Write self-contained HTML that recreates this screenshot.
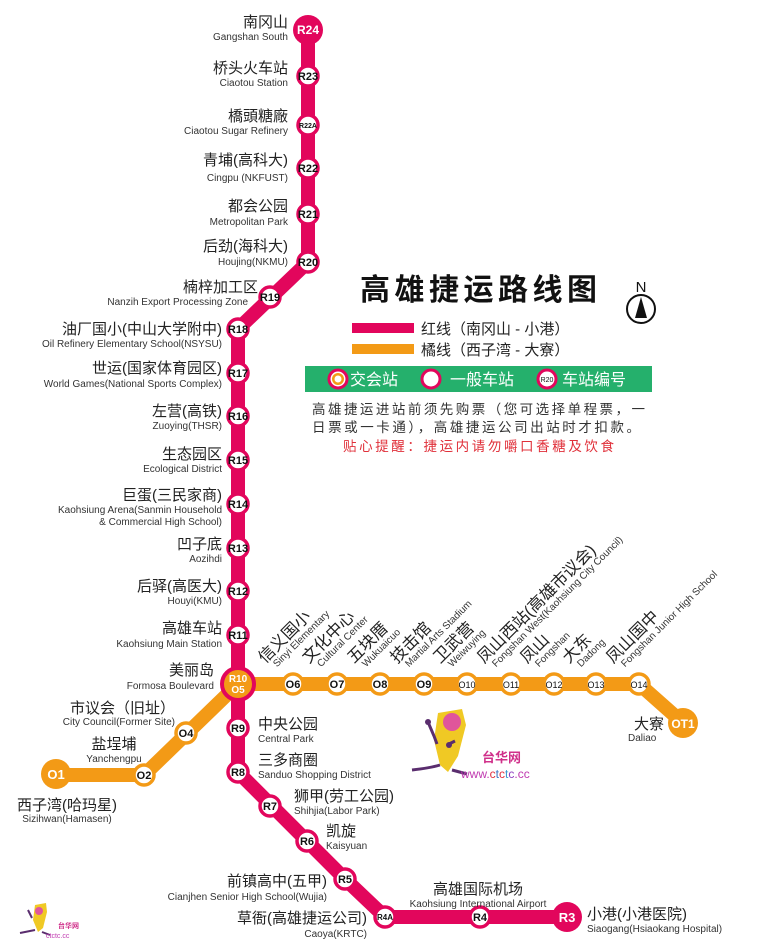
<!DOCTYPE html>
<html><head><meta charset="utf-8"><style>
html,body{margin:0;padding:0;background:#fff;}
svg{display:block;}
text{font-family:"Liberation Sans","Noto Sans CJK SC",sans-serif;}
.cn{font-size:15px;fill:#222;}
.rc{font-size:16.5px;fill:#222;}
.en{font-size:10px;fill:#333;}
.sn{font-size:11px;font-weight:bold;fill:#111;text-anchor:middle;}
.r{fill:#fff;stroke:#e2065c;stroke-width:3.5;}
.o{fill:#fff;stroke:#f39a16;stroke-width:3.5;}
</style></head><body>
<svg width="761" height="940" viewBox="0 0 761 940" xmlns="http://www.w3.org/2000/svg">
<polyline points="308,30 308,262 238,329 238,772 345,879 385,917 567,917" fill="none" stroke="#e2065c" stroke-width="14" stroke-linejoin="round"/>
<polyline points="56,775 144,775 238,684 639,684 683,723" fill="none" stroke="#f39a16" stroke-width="14" stroke-linejoin="round"/>

<circle cx="308" cy="30" r="15" fill="#e2065c"/><text x="308" y="34" class="sn" style="fill:#fff;font-size:12px">R24</text>
<g>
<circle cx="308" cy="76" r="10" class="r"/><text x="308" y="80" class="sn">R23</text>
<circle cx="308" cy="125" r="10" class="r"/><text x="308" y="128" class="sn" style="font-size:7px">R22A</text>
<circle cx="308" cy="168" r="10" class="r"/><text x="308" y="172" class="sn">R22</text>
<circle cx="308" cy="214" r="10" class="r"/><text x="308" y="218" class="sn">R21</text>
<circle cx="308" cy="262" r="10" class="r"/><text x="308" y="266" class="sn">R20</text>
<circle cx="270" cy="297" r="10" class="r"/><text x="270" y="301" class="sn">R19</text>
<circle cx="238" cy="329" r="10" class="r"/><text x="238" y="333" class="sn">R18</text>
<circle cx="238" cy="373" r="10" class="r"/><text x="238" y="377" class="sn">R17</text>
<circle cx="238" cy="416" r="10" class="r"/><text x="238" y="420" class="sn">R16</text>
<circle cx="238" cy="460" r="10" class="r"/><text x="238" y="464" class="sn">R15</text>
<circle cx="238" cy="504" r="10" class="r"/><text x="238" y="508" class="sn">R14</text>
<circle cx="238" cy="548" r="10" class="r"/><text x="238" y="552" class="sn">R13</text>
<circle cx="238" cy="591" r="10" class="r"/><text x="238" y="595" class="sn">R12</text>
<circle cx="238" cy="635" r="10" class="r"/><text x="238" y="639" class="sn">R11</text>
<circle cx="238" cy="684" r="16" fill="#f39a16" stroke="#e2065c" stroke-width="4"/>
<text x="238" y="682" class="sn" style="fill:#fff;font-size:10px">R10</text><text x="238" y="693" class="sn" style="fill:#fff;font-size:10px">O5</text>
<circle cx="238" cy="728" r="10" class="r"/><text x="238" y="732" class="sn">R9</text>
<circle cx="238" cy="772" r="10" class="r"/><text x="238" y="776" class="sn">R8</text>
<circle cx="270" cy="806" r="10" class="r"/><text x="270" y="810" class="sn">R7</text>
<circle cx="307" cy="841" r="10" class="r"/><text x="307" y="845" class="sn">R6</text>
<circle cx="345" cy="879" r="10" class="r"/><text x="345" y="883" class="sn">R5</text>
<circle cx="385" cy="917" r="10" class="r"/><text x="385" y="920" class="sn" style="font-size:8px">R4A</text>
<circle cx="480" cy="917" r="10" class="r"/><text x="480" y="921" class="sn">R4</text>
</g>
<circle cx="567" cy="917" r="15" fill="#e2065c"/><text x="567" y="922" class="sn" style="fill:#fff;font-size:13px">R3</text>

<circle cx="56" cy="774" r="15" fill="#f39a16"/><text x="56" y="779" class="sn" style="fill:#fff;font-size:13px">O1</text>
<circle cx="144" cy="775" r="10" class="o"/><text x="144" y="779" class="sn">O2</text>
<circle cx="186" cy="733" r="10" class="o"/><text x="186" y="737" class="sn">O4</text>
<circle cx="293" cy="684" r="10" class="o"/><text x="293" y="688" class="sn">O6</text>
<circle cx="337" cy="684" r="10" class="o"/><text x="337" y="688" class="sn">O7</text>
<circle cx="380" cy="684" r="10" class="o"/><text x="380" y="688" class="sn">O8</text>
<circle cx="424" cy="684" r="10" class="o"/><text x="424" y="688" class="sn">O9</text>
<circle cx="467" cy="684" r="10" class="o"/><text x="467" y="688" class="sn" style="font-weight:normal;font-size:9px">O10</text>
<circle cx="511" cy="684" r="10" class="o"/><text x="511" y="688" class="sn" style="font-weight:normal;font-size:9px">O11</text>
<circle cx="554" cy="684" r="10" class="o"/><text x="554" y="688" class="sn" style="font-weight:normal;font-size:9px">O12</text>
<circle cx="596" cy="684" r="10" class="o"/><text x="596" y="688" class="sn" style="font-weight:normal;font-size:9px">O13</text>
<circle cx="639" cy="684" r="10" class="o"/><text x="639" y="688" class="sn" style="font-weight:normal;font-size:9px">O14</text>
<circle cx="683" cy="723" r="15" fill="#f39a16"/><text x="683" y="728" class="sn" style="fill:#fff;font-size:12px">OT1</text>

<g text-anchor="end">
<text x="288" y="27" class="cn">南冈山</text><text x="288" y="40" class="en">Gangshan South</text>
<text x="288" y="73" class="cn">桥头火车站</text><text x="288" y="86" class="en">Ciaotou Station</text>
<text x="288" y="121" class="cn">橋頭糖廠</text><text x="288" y="134" class="en">Ciaotou Sugar Refinery</text>
<text x="288" y="165" class="cn">青埔(高科大)</text><text x="288" y="181" class="en">Cingpu (NKFUST)</text>
<text x="288" y="211" class="cn">都会公园</text><text x="288" y="225" class="en">Metropolitan Park</text>
<text x="288" y="251" class="cn">后劲(海科大)</text><text x="288" y="265" class="en">Houjing(NKMU)</text>
<text x="258" y="292" class="cn">楠梓加工区</text><text x="248" y="305" class="en">Nanzih Export Processing Zone</text>
<text x="222" y="334" class="cn">油厂国小(中山大学附中)</text><text x="222" y="347" class="en">Oil Refinery Elementary School(NSYSU)</text>
<text x="222" y="373" class="cn">世运(国家体育园区)</text><text x="222" y="387" class="en">World Games(National Sports Complex)</text>
<text x="222" y="416" class="cn">左营(高铁)</text><text x="222" y="429" class="en">Zuoying(THSR)</text>
<text x="222" y="459" class="cn">生态园区</text><text x="222" y="472" class="en">Ecological District</text>
<text x="222" y="500" class="cn">巨蛋(三民家商)</text><text x="222" y="513" class="en">Kaohsiung Arena(Sanmin Household</text><text x="222" y="525" class="en">&amp; Commercial High School)</text>
<text x="222" y="549" class="cn">凹子底</text><text x="222" y="562" class="en">Aozihdi</text>
<text x="222" y="591" class="cn">后驿(高医大)</text><text x="222" y="604" class="en">Houyi(KMU)</text>
<text x="222" y="633" class="cn">高雄车站</text><text x="222" y="647" class="en">Kaohsiung Main Station</text>
<text x="214" y="675" class="cn">美丽岛</text><text x="214" y="689" class="en">Formosa Boulevard</text>
<text x="327" y="886" class="cn">前镇高中(五甲)</text><text x="327" y="900" class="en">Cianjhen Senior High School(Wujia)</text>
<text x="367" y="923" class="cn">草衙(高雄捷运公司)</text><text x="367" y="937" class="en">Caoya(KRTC)</text>
<text x="175" y="713" class="cn">市议会（旧址）</text><text x="175" y="725" class="en">City Council(Former Site)</text>
<text x="664" y="729" class="cn">大寮</text>
</g>
<text x="258" y="729" class="cn">中央公园</text><text x="258" y="742" class="en">Central Park</text>
<text x="258" y="765" class="cn">三多商圈</text><text x="258" y="778" class="en">Sanduo Shopping District</text>
<text x="294" y="801" class="cn">狮甲(劳工公园)</text><text x="294" y="814" class="en">Shihjia(Labor Park)</text>
<text x="326" y="836" class="cn">凯旋</text><text x="326" y="849" class="en">Kaisyuan</text>
<text x="587" y="919" class="cn">小港(小港医院)</text><text x="587" y="932" class="en">Siaogang(Hsiaokang Hospital)</text>
<text x="628" y="741" class="en">Daliao</text>
<g text-anchor="middle">
<text x="478" y="894" class="cn">高雄国际机场</text><text x="478" y="907" class="en">Kaohsiung International Airport</text>
<text x="114" y="749" class="cn">盐埕埔</text><text x="114" y="762" class="en">Yanchengpu</text>
<text x="67" y="810" class="cn">西子湾(哈玛星)</text><text x="67" y="822" class="en">Sizihwan(Hamasen)</text>
</g>

<g transform="translate(265,664) rotate(-45)"><text class="rc">信义国小</text><text x="6" y="11" class="en">Sinyi Elementary</text></g>
<g transform="translate(309,664) rotate(-45)"><text class="rc">文化中心</text><text x="6" y="11" class="en">Cultural Center</text></g>
<g transform="translate(354,664) rotate(-45)"><text class="rc">五块厝</text><text x="6" y="11" class="en">Wukuaicuo</text></g>
<g transform="translate(397,664) rotate(-45)"><text class="rc">技击馆</text><text x="6" y="11" class="en">Martial Arts Stadium</text></g>
<g transform="translate(440,664) rotate(-45)"><text class="rc">卫武营</text><text x="6" y="11" class="en">Weiwuying</text></g>
<g transform="translate(484,664) rotate(-45)"><text class="rc">凤山西站(高雄市议会)</text><text x="6" y="11" class="en">Fongshan West(Kaohsiung City Council)</text></g>
<g transform="translate(527,664) rotate(-45)"><text class="rc">凤山</text><text x="6" y="11" class="en">Fongshan</text></g>
<g transform="translate(569,664) rotate(-45)"><text class="rc">大东</text><text x="6" y="11" class="en">Dadong</text></g>
<g transform="translate(613,664) rotate(-45)"><text class="rc">凤山国中</text><text x="6" y="11" class="en">Fongshan Junior High School</text></g>

<text x="360" y="300" style="font-size:30px;font-weight:bold;fill:#111" textLength="237">高雄捷运路线图</text>
<text x="641" y="292" text-anchor="middle" style="font-size:15px;fill:#111">N</text>
<circle cx="641" cy="309" r="14" fill="#fff" stroke="#111" stroke-width="2"/>
<polygon points="641,297 635,318 647,318" fill="#111"/>
<rect x="352" y="323" width="62" height="10" fill="#e2065c"/>
<text x="421" y="334" style="font-size:15px;fill:#222">红线（南冈山 - 小港）</text>
<rect x="352" y="344" width="62" height="10" fill="#f39a16"/>
<text x="421" y="355" style="font-size:15px;fill:#222">橘线（西子湾 - 大寮）</text>
<rect x="305" y="366" width="347" height="26" fill="#25b06c"/>
<circle cx="338" cy="379" r="9" fill="#fff" stroke="#e2065c" stroke-width="3"/><circle cx="338" cy="379" r="6" fill="#f39a16"/><circle cx="338" cy="379" r="3.5" fill="#fff"/>
<text x="350" y="385" style="font-size:16px;fill:#fff">交会站</text>
<circle cx="431" cy="379" r="9" fill="#fff" stroke="#e2065c" stroke-width="3"/>
<text x="450" y="385" style="font-size:16px;fill:#fff">一般车站</text>
<circle cx="547" cy="379" r="9" fill="#fff" stroke="#e2065c" stroke-width="3"/><text x="547" y="382" style="font-size:7px;fill:#111;text-anchor:middle">R20</text>
<text x="562" y="385" style="font-size:16px;fill:#fff">车站编号</text>
<text x="312" y="414" style="font-size:13.5px;fill:#333" textLength="333">高雄捷运进站前须先购票（您可选择单程票，一</text>
<text x="312" y="432" style="font-size:13.5px;fill:#333" textLength="328">日票或一卡通），高雄捷运公司出站时才扣款。</text>
<text x="343" y="451" style="font-size:13.5px;fill:#e0303a" textLength="271">贴心提醒：捷运内请勿嚼口香糖及饮食</text>

<g>
<path d="M438,713 L462,709 L466,725 L458,756 L448,772 L440,765 L434,740 Z" fill="#f0c924"/>
<circle cx="452" cy="722" r="9" fill="#e0559b"/>
<path d="M428,722 L434,736 L437,744 M447,745 L455,741 M440,765 Q430,768 412,770 M452,770 L467,774" stroke="#5a2d6e" stroke-width="3" fill="none"/>
<circle cx="428" cy="722" r="3" fill="#5a2d6e"/><circle cx="449" cy="745" r="3" fill="#5a2d6e"/>
<text x="482" y="762" style="font-size:13px;font-weight:bold;fill:#d0308a">台华网</text>
<text x="461" y="778" style="font-size:12px;fill:#c03ab0">www.<tspan fill="#e03040">c</tspan><tspan fill="#3a70c0">t</tspan><tspan fill="#e03040">c</tspan><tspan fill="#3a9ad0">t</tspan><tspan fill="#9040c0">c</tspan>.cc</text>
</g>
<g>
<path d="M35,905 L46,903 L47,912 L43,928 L38,932 L33,920 Z" fill="#f0c924"/>
<circle cx="39" cy="911" r="4" fill="#e0559b"/>
<path d="M28,910 L32,918 M35,930 L20,933 M42,932 L50,935" stroke="#5a2d6e" stroke-width="2" fill="none"/>
<text x="58" y="928" style="font-size:7px;font-weight:bold;fill:#d0308a">台华网</text>
<text x="46" y="938" style="font-size:7px;fill:#c03ab0">ctctc.cc</text>
</g>
</svg>
</body></html>
